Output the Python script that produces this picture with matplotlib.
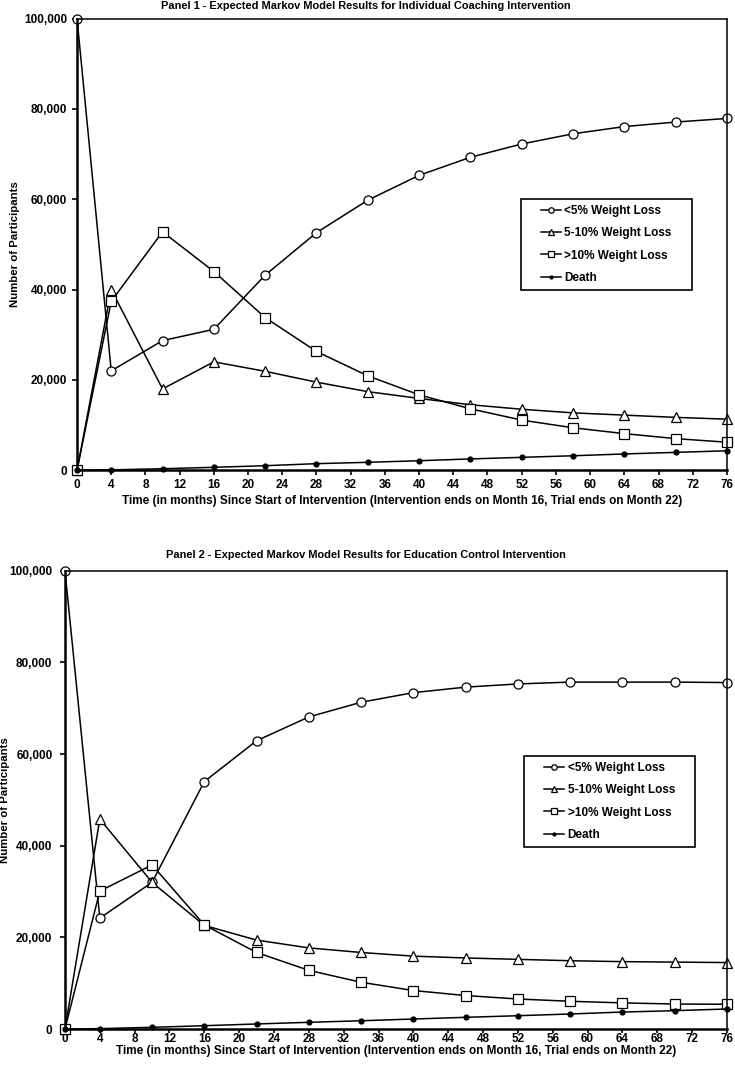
import numpy as np
import matplotlib.pyplot as plt
from matplotlib.patches import Rectangle

plt.rcParams['font.family'] = ['Liberation Sans', 'DejaVu Sans']
plt.rcParams['font.weight'] = 'bold'

months = [0, 4, 10, 16, 22, 28, 34, 40, 46, 52, 58, 64, 70, 76]
x_ticks = list(range(0, 77, 4))
y_ticks = [0, 20000, 40000, 60000, 80000, 100000]

# Panel 1 - individual coaching
p1_lt5 = [100000, 22000, 28700, 31200, 43200, 52600, 59800, 65300, 69300, 72250, 74500, 76100, 77100, 77900]
p1_5to10 = [0, 40000, 18000, 24000, 21900, 19500, 17400, 15900, 14500, 13500, 12700, 12200, 11700, 11300]
p1_gt10 = [0, 37400, 52800, 44000, 33800, 26300, 20900, 16700, 13600, 11100, 9400, 8100, 7000, 6200]
p1_death = [0, 80, 330, 640, 1000, 1450, 1750, 2100, 2500, 2850, 3200, 3600, 3950, 4300]

# Panel 2 - education control
p2_lt5 = [100000, 24200, 32000, 54000, 62900, 68100, 71300, 73400, 74600, 75300, 75700, 75700, 75700, 75600]
p2_5to10 = [0, 45800, 32000, 22600, 19400, 17700, 16700, 15900, 15500, 15200, 14900, 14700, 14600, 14500]
p2_gt10 = [0, 30100, 35800, 22700, 16700, 12800, 10200, 8400, 7300, 6550, 6050, 5700, 5450, 5400]
p2_death = [0, 80, 370, 720, 1100, 1460, 1800, 2180, 2550, 2900, 3280, 3700, 4000, 4370]

labels = ['<5% Weight Loss', '5-10% Weight Loss', '>10% Weight Loss', 'Death']
titles = ['Panel 1 - Expected Markov Model Results for Individual Coaching Intervention',
          'Panel 2 - Expected Markov Model Results for Education Control Intervention']
xlabel = 'Time (in months) Since Start of Intervention (Intervention ends on Month 16, Trial ends on Month 22)'

fig = plt.figure(figsize=(7.35, 10.66), dpi=100)
ax1 = fig.add_axes([0.1048, 0.5589, 0.8842, 0.4236])
ax2 = fig.add_axes([0.0884, 0.0347, 0.9006, 0.4299])


def draw(ax, series, title, title_y, leg_anchor, ylab_x, ypad, xpad, xlen, xlpad):
    styles = [dict(marker='o', ms=6.5, mfc='white'),
              dict(marker='^', ms=6.5, mfc='white'),
              dict(marker='s', ms=6.5, mfc='white'),
              dict(marker='o', ms=3.6, mfc='black')]
    for vals, lab, st in zip(series, labels, styles):
        ax.plot(months, vals, color='black', lw=1.1, mec='black', mew=0.9,
                clip_on=False, label=lab, **st)
    ax.set_xlim(0, 76)
    ax.set_ylim(0, 100000)
    ax.set_xticks(x_ticks)
    ax.set_yticks(y_ticks)
    ax.set_yticklabels([f'{v:,}' for v in y_ticks])
    ax.tick_params(direction='out', length=3.5, width=1.2, labelsize=8.5)
    ax.tick_params(axis='x', pad=xpad, length=xlen)
    ax.tick_params(axis='y', pad=ypad)
    for lab in ax.get_xticklabels() + ax.get_yticklabels():
        lab.set_fontweight('bold')
    for side in ['left', 'bottom']:
        ax.spines[side].set_linewidth(1.8)
    for side in ['top', 'right']:
        ax.spines[side].set_linewidth(1.1)
    ax.set_xlabel(xlabel, fontsize=8.5, fontweight='bold', labelpad=xlpad)
    ax.set_ylabel('Number of Participants', fontsize=8.2, fontweight='bold')
    ax.yaxis.set_label_coords(ylab_x, 0.5)
    fig.text(0.498, title_y, title, ha='center', va='center', fontsize=7.9, fontweight='bold')
    leg = ax.legend(loc='upper right', bbox_to_anchor=leg_anchor, fontsize=8.5,
                    frameon=False, markerscale=0.6, handlelength=1.7,
                    handletextpad=0.3, labelspacing=0.88, borderpad=0.5,
                    borderaxespad=0)
    for t in leg.get_texts():
        t.set_fontweight('bold')
    return leg


legs = [draw(ax1, [p1_lt5, p1_5to10, p1_gt10, p1_death], titles[0], 1 - 6 / 1066,
             (0.924, 0.601), -0.087, 3.5, 2.7, 3.5, 3.0),
        draw(ax2, [p2_lt5, p2_5to10, p2_gt10, p2_death], titles[1], 1 - 555 / 1066,
             (0.9305, 0.596), -0.083, 5.5, 0.2, 3.0, -0.5)]

# legend frame with wider side padding than top/bottom
fig.canvas.draw()
inv = fig.transFigure.inverted()
for leg in legs:
    bb = leg.get_window_extent()
    (x0, y0), (x1, y1) = inv.transform([[bb.x0 - 14, bb.y0], [bb.x1 + 14, bb.y1]])
    fig.patches.append(Rectangle((x0, y0), x1 - x0, y1 - y0, transform=fig.transFigure,
                                 fill=False, edgecolor='black', lw=1.2, zorder=5))

fig.savefig('out.png', dpi=100)
